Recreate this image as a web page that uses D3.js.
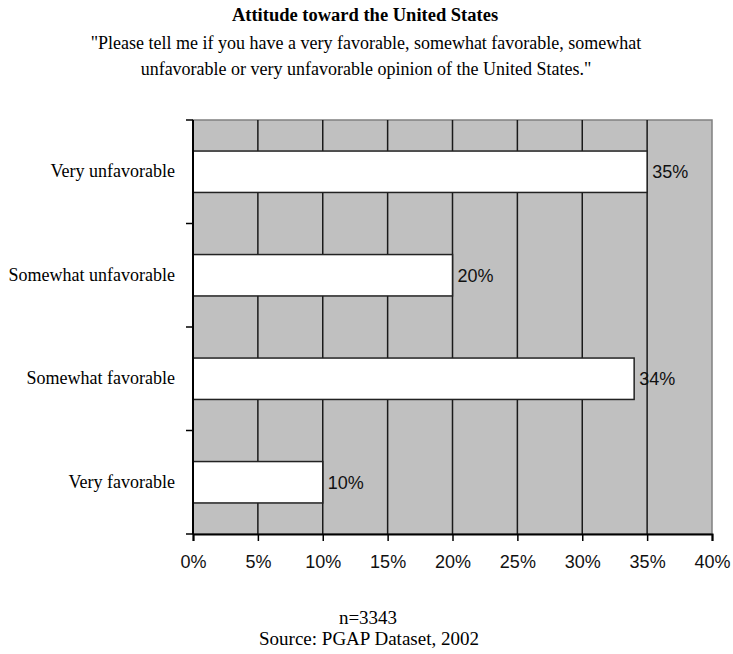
<!DOCTYPE html>
<html>
<head>
<meta charset="utf-8">
<script src="https://cdn.jsdelivr.net/npm/d3@7"></script>
<style>
  html, body { margin: 0; padding: 0; background: #fff; }
  svg { display: block; }
</style>
</head>
<body>
<script>
// Survey responses, top to bottom as drawn
const categories = ["Very unfavorable", "Somewhat unfavorable", "Somewhat favorable", "Very favorable"];
const values = [35, 20, 34, 10];
const xTicks = [0, 5, 10, 15, 20, 25, 30, 35, 40];

const W = 733, H = 654;
const plot = { left: 193, right: 712, top: 120, bottom: 534 };

const svg = d3.select("body").append("svg")
  .attr("width", W).attr("height", H);

const x = d3.scaleLinear().domain([0, 40]).range([plot.left, plot.right]);
const y = d3.scaleBand().domain(categories).range([plot.top, plot.bottom]).paddingInner(0.6).paddingOuter(0.3);
const yBand = d3.scaleBand().domain(categories).range([plot.top, plot.bottom]);

const serif = "'Liberation Serif', 'Times New Roman', serif";
const sans = "'Liberation Sans', Arial, sans-serif";

// Titles
svg.append("text").attr("x", 365).attr("y", 21)
  .attr("text-anchor", "middle").attr("font-family", serif)
  .attr("font-weight", "bold").attr("font-size", 18.5).text("Attitude toward the United States");
svg.append("text").attr("x", 366).attr("y", 49)
  .attr("text-anchor", "middle").attr("font-family", serif).attr("font-size", 18)
  .text("\"Please tell me if you have a very favorable, somewhat favorable, somewhat");
svg.append("text").attr("x", 366).attr("y", 75)
  .attr("text-anchor", "middle").attr("font-family", serif).attr("font-size", 18)
  .text("unfavorable or very unfavorable opinion of the United States.\"");

// Plot background
svg.append("rect")
  .attr("x", plot.left).attr("y", plot.top)
  .attr("width", plot.right - plot.left).attr("height", plot.bottom - plot.top)
  .attr("fill", "#c0c0c0").attr("stroke", "#808080").attr("stroke-width", 1.5);

// Vertical gridlines
svg.append("g").selectAll("line")
  .data(xTicks.filter(d => d > 0 && d < 40))
  .join("line")
  .attr("x1", d => x(d)).attr("x2", d => x(d))
  .attr("y1", plot.top).attr("y2", plot.bottom)
  .attr("stroke", "#1a1a1a").attr("stroke-width", 1.5);

// Bars
svg.append("g").selectAll("rect")
  .data(categories)
  .join("rect")
  .attr("x", x(0))
  .attr("y", d => y(d))
  .attr("width", (d, i) => x(values[i]) - x(0))
  .attr("height", y.bandwidth())
  .attr("fill", "#ffffff").attr("stroke", "#222").attr("stroke-width", 1.5);

// Value labels
svg.append("g").selectAll("text")
  .data(categories)
  .join("text")
  .attr("x", (d, i) => x(values[i]) + 5)
  .attr("y", d => y(d) + y.bandwidth() / 2)
  .attr("dy", "0.36em")
  .attr("font-family", sans).attr("font-size", 18).attr("fill", "#111")
  .text((d, i) => values[i] + "%");

// Left axis: tick marks between categories
const leftAxis = svg.append("g");
leftAxis.append("line")
  .attr("x1", plot.left).attr("x2", plot.left)
  .attr("y1", plot.top).attr("y2", plot.bottom)
  .attr("stroke", "#000").attr("stroke-width", 2);
const bounds = categories.map(c => yBand(c)).concat([plot.bottom]);
leftAxis.selectAll("line.tick")
  .data(bounds)
  .join("line").attr("class", "tick")
  .attr("x1", plot.left - 7).attr("x2", plot.left)
  .attr("y1", d => d).attr("y2", d => d)
  .attr("stroke", "#000").attr("stroke-width", 1.5);
leftAxis.selectAll("text")
  .data(categories)
  .join("text")
  .attr("x", 175)
  .attr("y", d => yBand(d) + yBand.bandwidth() / 2)
  .attr("dy", "0.3em")
  .attr("text-anchor", "end")
  .attr("font-family", serif).attr("font-size", 18)
  .text(d => d);

// Bottom axis
const bottomAxis = svg.append("g")
  .attr("transform", `translate(0,${plot.bottom})`)
  .call(d3.axisBottom(x).tickValues(xTicks).tickFormat(d => d + "%").tickSize(7).tickPadding(14));
bottomAxis.select(".domain").attr("stroke", "#000").attr("stroke-width", 2);
bottomAxis.selectAll(".tick line").attr("stroke", "#000").attr("stroke-width", 1.5);
bottomAxis.selectAll(".tick text")
  .attr("font-family", sans).attr("font-size", 18).attr("fill", "#111");

// Footer
svg.append("text").attr("x", 368).attr("y", 624)
  .attr("text-anchor", "middle").attr("font-family", serif).attr("font-size", 19)
  .text("n=3343");
svg.append("text").attr("x", 369).attr("y", 645)
  .attr("text-anchor", "middle").attr("font-family", serif).attr("font-size", 19)
  .text("Source: PGAP Dataset, 2002");
</script>
</body>
</html>
